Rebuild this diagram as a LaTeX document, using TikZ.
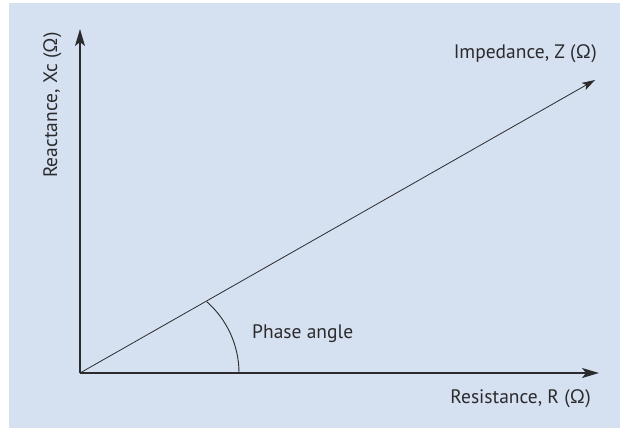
\documentclass[tikz,border=0pt]{standalone}
\usepackage{fontspec}
\setmainfont{PT Sans}
\usetikzlibrary{arrows.meta}
\definecolor{bgblue}{HTML}{D5E0F1}
\definecolor{ink}{HTML}{2B2B2D}
\begin{document}
\begin{tikzpicture}[x=1pt,y=-1pt,
  axisline/.style={draw=ink,line width=1.6pt,-{Stealth[length=17pt,width=10pt,inset=4pt]}},
  vecline/.style={draw=ink,line width=0.8pt,-{Stealth[length=13pt,width=8pt,inset=3pt]}},
  lbl/.style={text=ink,font=\fontsize{19.5}{22}\selectfont,inner sep=0pt}]
\useasboundingbox (0,0) rectangle (620,431);
\fill[bgblue] (9,3) rectangle (620,428);
\coordinate (O) at (80,373);
\coordinate (Ytip) at (80,29);
\coordinate (Xtip) at (599,373);
\coordinate (Ztip) at (595,80);
\draw[axisline] (O) -- (Ytip);
\draw[axisline] (O) -- (Xtip);
\draw[vecline] (O) -- (Ztip);
\draw[ink,line width=0.9pt] (144,373) ++(-48.7:95) arc[start angle=-48.7,end angle=0,radius=95];
\node[lbl,anchor=base east] (zl) at (597,58) {Impedance, Z (Ω)};
\node[lbl,anchor=base east] (rl) at (591,403) {Resistance, R (Ω)};
\node[lbl,anchor=base west] (pl) at (252,338) {Phase angle};
\node[lbl,anchor=base,rotate=90] (xl) at (57,105) {Reactance, Xc (Ω)};
\end{tikzpicture}
\end{document}
